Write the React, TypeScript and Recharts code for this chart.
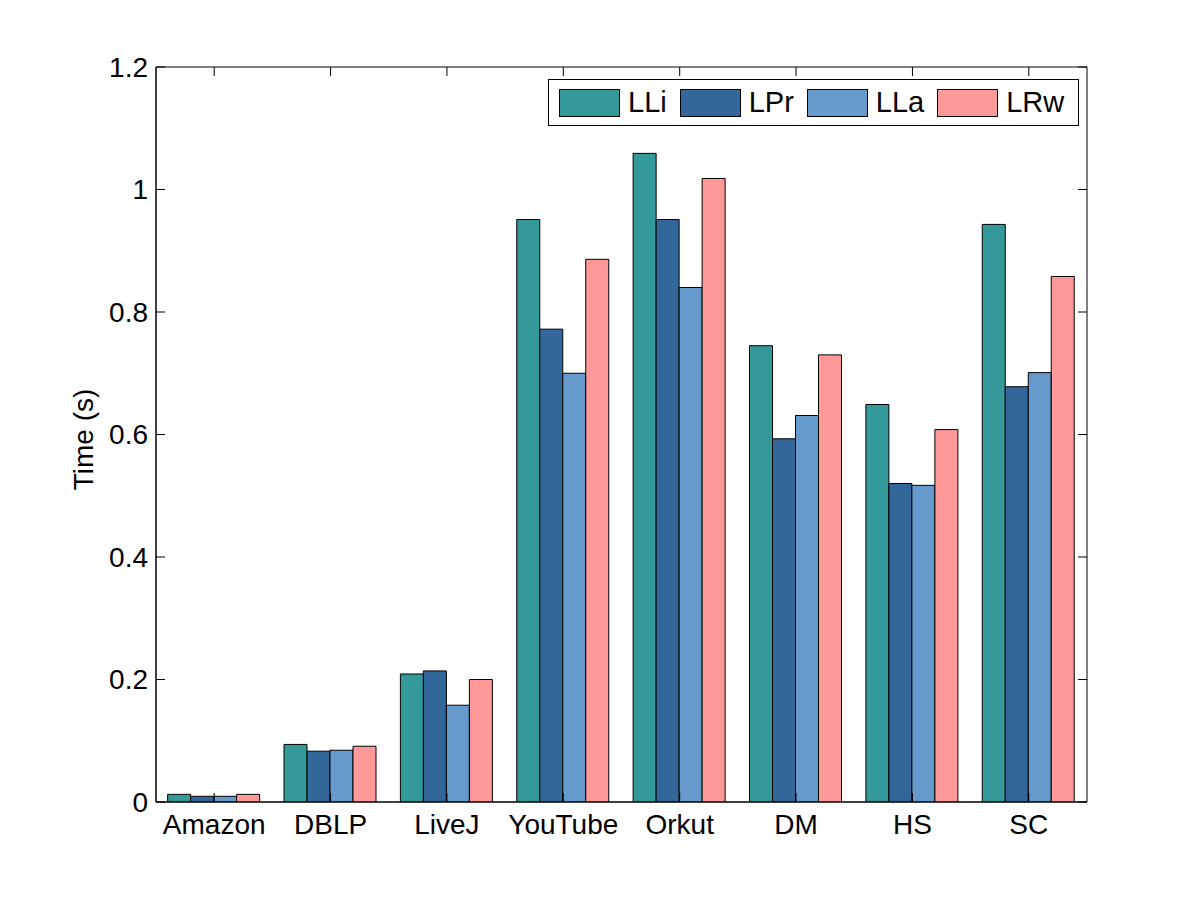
import React from 'react';
import { BarChart, Bar, XAxis, YAxis, ReferenceArea } from 'recharts';

const categories = ['Amazon', 'DBLP', 'LiveJ', 'YouTube', 'Orkut', 'DM', 'HS', 'SC'];
const lliValues = [0.0125, 0.094, 0.209, 0.951, 1.059, 0.745, 0.649, 0.943];
const lprValues = [0.0093, 0.083, 0.214, 0.772, 0.951, 0.593, 0.52, 0.678];
const llaValues = [0.0093, 0.0845, 0.158, 0.7, 0.84, 0.631, 0.517, 0.701];
const lrwValues = [0.0125, 0.091, 0.2, 0.886, 1.018, 0.73, 0.608, 0.858];
const yTicks = [0, 0.2, 0.4, 0.6, 0.8, 1, 1.2];

const seriesNames = ['LLi', 'LPr', 'LLa', 'LRw'];
const seriesColors = ['#339999', '#336699', '#6699CC', '#FF9999'];

const data = categories.map((c, i) => ({
  name: c,
  LLi: lliValues[i],
  LPr: lprValues[i],
  LLa: llaValues[i],
  LRw: lrwValues[i],
}));

const W = 1185;
const H = 885;
const PLOT_LEFT = 148;
const PLOT_TOP = 59;
const PLOT_RIGHT = 1079;
const PLOT_BOTTOM = 794;
const Y_AXIS_W = 80;
const X_AXIS_H = 50;
const FONT = '"Liberation Sans", Arial, Helvetica, sans-serif';
const FS = 28;
const TICK = 9;

const YTick = (props: any) => {
  const { x, y, payload } = props;
  return (
    <g>
      <line x1={x} x2={x + TICK} y1={y} y2={y} stroke="#000" strokeWidth={1} />
      <line x1={PLOT_RIGHT - TICK} x2={PLOT_RIGHT} y1={y} y2={y} stroke="#000" strokeWidth={1} />
      <text x={x - 8} y={y} textAnchor="end" dominantBaseline="central" fontSize={FS} fontFamily={FONT} fill="#000">
        {String(payload.value)}
      </text>
    </g>
  );
};

const XTick = (props: any) => {
  const { x, y, payload } = props;
  return (
    <g>
      <line x1={x} x2={x} y1={y} y2={y - TICK} stroke="#000" strokeWidth={1} />
      <line x1={x} x2={x} y1={PLOT_TOP} y2={PLOT_TOP + TICK} stroke="#000" strokeWidth={1} />
      <text x={x} y={y + 32} textAnchor="middle" fontSize={FS} fontFamily={FONT} fill="#000">
        {payload.value}
      </text>
    </g>
  );
};

const LegendBox = () => (
  <div
    style={{
      position: 'absolute',
      top: 71,
      left: 540,
      display: 'flex',
      alignItems: 'center',
      boxSizing: 'border-box',
      width: 531,
      height: 47,
      border: '1px solid #000',
      background: '#fff',
      paddingLeft: 10,
      fontFamily: FONT,
      fontSize: 29,
      color: '#000',
    }}
  >
    {seriesNames.map((n, i) => (
      <div key={n} style={{ display: 'flex', alignItems: 'center', marginRight: i < 3 ? 13 : 0 }}>
        <div
          style={{
            width: 61,
            height: 28,
            boxSizing: 'border-box',
            border: '1px solid #000',
            background: seriesColors[i],
            marginRight: 8,
          }}
        />
        <span style={{ lineHeight: '29px' }}>{n}</span>
      </div>
    ))}
  </div>
);

const YLabel = (props: any) => {
  const vb = props.viewBox || {};
  const cy = (vb.y ?? PLOT_TOP) + (vb.height ?? PLOT_BOTTOM - PLOT_TOP) / 2 + 5;
  const cx = 75;
  return (
    <text
      x={cx}
      y={cy}
      transform={`rotate(-90 ${cx} ${cy})`}
      textAnchor="middle"
      dominantBaseline="central"
      fontSize={FS}
      fontFamily={FONT}
      fill="#000"
    >
      Time (s)
    </text>
  );
};

export default function App() {
  return (
    <div style={{ position: 'relative', width: W, height: H, background: '#fff' }}>
      <BarChart
        width={W}
        height={H}
        data={data}
        margin={{
          top: PLOT_TOP,
          right: W - PLOT_RIGHT,
          bottom: H - PLOT_BOTTOM - X_AXIS_H,
          left: PLOT_LEFT - Y_AXIS_W,
        }}
        barCategoryGap="10%"
        barGap={0}
      >
        <XAxis
          dataKey="name"
          height={X_AXIS_H}
          tickSize={0}
          tickMargin={0}
          tickLine={false}
          axisLine={{ stroke: '#000' }}
          tick={<XTick />}
          interval={0}
        />
        <YAxis
          width={Y_AXIS_W}
          domain={[0, 1.2]}
          ticks={yTicks}
          type="number"
          allowDataOverflow
          tickSize={0}
          tickMargin={0}
          tickLine={false}
          axisLine={{ stroke: '#000' }}
          tick={<YTick />}
          label={<YLabel />}
        />
        <ReferenceArea y1={0} y2={1.2} fill="none" stroke="#000" strokeWidth={1} ifOverflow="visible" />
        {seriesNames.map((n, i) => (
          <Bar
            key={n}
            dataKey={n}
            fill={seriesColors[i]}
            stroke="#000"
            strokeWidth={1}
            isAnimationActive={false}
          />
        ))}
      </BarChart>
      <LegendBox />
    </div>
  );
}
